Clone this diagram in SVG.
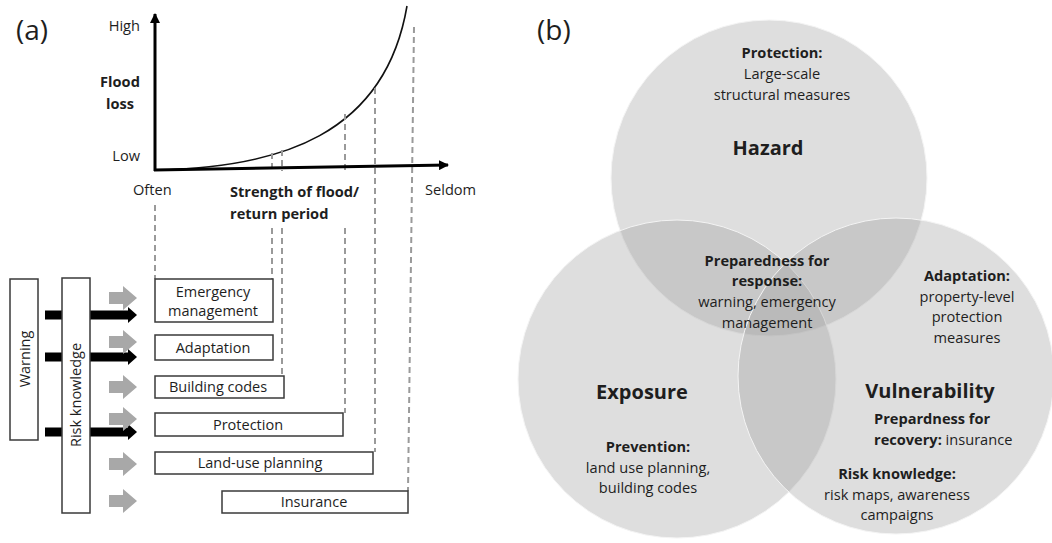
<svg xmlns="http://www.w3.org/2000/svg" width="1052" height="543" viewBox="0 0 1052 543">
<style>
text{font-family:"Open Sans","Liberation Sans",sans-serif;fill:#1e1e1e}
.lbl{font-size:14.6px}
.b{font-weight:bold}
.box{fill:#fff;stroke:#3a3a3a;stroke-width:1.5}
.dash{stroke:#9a9a9a;stroke-width:2;stroke-dasharray:6 4;fill:none}
.circ{fill:#a0a0a0;fill-opacity:0.35;stroke:#f4f4f4;stroke-width:1}
.bt{font-size:14.5px;text-anchor:middle}
.vt{font-size:14.6px;text-anchor:middle}
.big{font-size:20px;font-weight:bold;text-anchor:middle}
</style>
<defs>
<marker id="ah" markerWidth="10" markerHeight="10" refX="9" refY="5" orient="auto" markerUnits="userSpaceOnUse">
<path d="M0,0 L10,5 L0,10 z" fill="#000"/>
</marker>
<path id="garrow" d="M0,-6 L14,-6 L14,-12 L28,0 L14,12 L14,6 L0,6 z" fill="#a8a8a8"/>
<path id="barrow" d="M0,-4.5 L83,-4.5 L83,-8 L92,0 L83,8 L83,4.5 L0,4.5 z" fill="#000"/>
</defs>
<rect width="1052" height="543" fill="#fff"/>

<!-- panel (a) -->
<text x="16" y="40" style="font-size:28px">(a)</text>
<g id="chart">
<text x="140" y="31" class="lbl" text-anchor="end">High</text>
<text x="120" y="87" class="lbl b" text-anchor="middle">Flood</text>
<text x="120" y="109" class="lbl b" text-anchor="middle">loss</text>
<text x="140" y="161" class="lbl" text-anchor="end">Low</text>
<text x="133" y="195" class="lbl">Often</text>
<text x="230" y="197" class="lbl b">Strength of flood/</text>
<text x="230" y="219" class="lbl b">return period</text>
<text x="425" y="195" class="lbl">Seldom</text>
<path d="M155,170 C280,168 385,135 407,6" fill="none" stroke="#111" stroke-width="1.6"/>
</g>
<g id="connectors">
<line x1="155" y1="205" x2="155" y2="279" class="dash"/>
<line x1="272" y1="153" x2="272" y2="171" class="dash"/>
<line x1="272" y1="228" x2="272" y2="279" class="dash"/>
<line x1="282" y1="150" x2="282" y2="171" class="dash"/>
<line x1="282" y1="228" x2="282" y2="376" class="dash"/>
<line x1="345" y1="114" x2="345" y2="171" class="dash"/>
<line x1="345" y1="228" x2="345" y2="413" class="dash"/>
<line x1="375" y1="88" x2="375" y2="452" class="dash"/>
<line x1="414" y1="27" x2="408" y2="491" class="dash"/>
<line x1="155" y1="171" x2="155" y2="14" stroke="#000" stroke-width="3" marker-end="url(#ah)"/>
<line x1="154" y1="170" x2="448" y2="165" stroke="#000" stroke-width="3" marker-end="url(#ah)"/>
<use href="#barrow" x="45" y="315"/>
<use href="#barrow" x="45" y="357"/>
<use href="#barrow" x="45" y="432"/>
<use href="#garrow" x="109" y="298"/>
<use href="#garrow" x="109" y="342"/>
<use href="#garrow" x="109" y="387"/>
<use href="#garrow" x="109" y="419"/>
<use href="#garrow" x="109" y="464"/>
<use href="#garrow" x="109" y="501"/>
</g>
<g id="warning">
<rect x="10" y="279" width="28" height="161" class="box"/>
<text x="0" y="0" transform="translate(30,359) rotate(-90)" class="bt">Warning</text>
</g>
<g id="riskknowledge">
<rect x="62" y="278" width="28" height="235" class="box"/>
<text x="0" y="0" transform="translate(81,395) rotate(-90)" class="bt">Risk knowledge</text>
</g>
<g id="emergency">
<rect x="155" y="279" width="118" height="43" class="box"/>
<text x="213" y="297" class="bt">Emergency</text>
<text x="213" y="316" class="bt">management</text>
</g>
<g id="adaptation">
<rect x="155" y="335" width="118" height="25" class="box"/>
<text x="213" y="353" class="bt">Adaptation</text>
</g>
<g id="buildingcodes">
<rect x="155" y="376" width="129" height="22" class="box"/>
<text x="218" y="392" class="bt">Building codes</text>
</g>
<g id="protection">
<rect x="155" y="413" width="188" height="23" class="box"/>
<text x="248" y="430" class="bt">Protection</text>
</g>
<g id="landuse">
<rect x="155" y="452" width="218" height="22" class="box"/>
<text x="260" y="468" class="bt">Land-use planning</text>
</g>
<g id="insurance">
<rect x="222" y="491" width="186" height="22" class="box"/>
<text x="314" y="507" class="bt">Insurance</text>
</g>

<!-- panel (b) -->
<text x="537" y="40" style="font-size:28px">(b)</text>
<g id="hazard">
<circle cx="769" cy="178" r="158" class="circ"/>
</g>
<g id="exposure">
<circle cx="677" cy="379" r="159" class="circ"/>
</g>
<g id="vulnerability">
<circle cx="896" cy="376" r="158" class="circ"/>
</g>
<g id="labels-b">
<text x="782" y="58" class="vt b">Protection:</text>
<text x="782" y="79" class="vt">Large-scale</text>
<text x="782" y="100" class="vt">structural measures</text>
<text x="768" y="155" class="big">Hazard</text>
<text x="767" y="266" class="vt b">Preparedness for</text>
<text x="767" y="286" class="vt b">response:</text>
<text x="767" y="307" class="vt">warning, emergency</text>
<text x="767" y="328" class="vt">management</text>
<text x="967" y="281" class="vt b">Adaptation:</text>
<text x="967" y="302" class="vt">property-level</text>
<text x="967" y="322" class="vt">protection</text>
<text x="967" y="343" class="vt">measures</text>
<text x="642" y="399" class="big">Exposure</text>
<text x="930" y="398" class="big">Vulnerability</text>
<text x="874" y="424" class="lbl b">Prepardness for</text>
<text x="874" y="445" class="lbl"><tspan class="b">recovery:</tspan> insurance</text>
<text x="897" y="479" class="vt b">Risk knowledge:</text>
<text x="897" y="500" class="vt">risk maps, awareness</text>
<text x="897" y="520" class="vt">campaigns</text>
<text x="648" y="452" class="vt b">Prevention:</text>
<text x="648" y="473" class="vt">land use planning,</text>
<text x="648" y="493" class="vt">building codes</text>
</g>
</svg>
